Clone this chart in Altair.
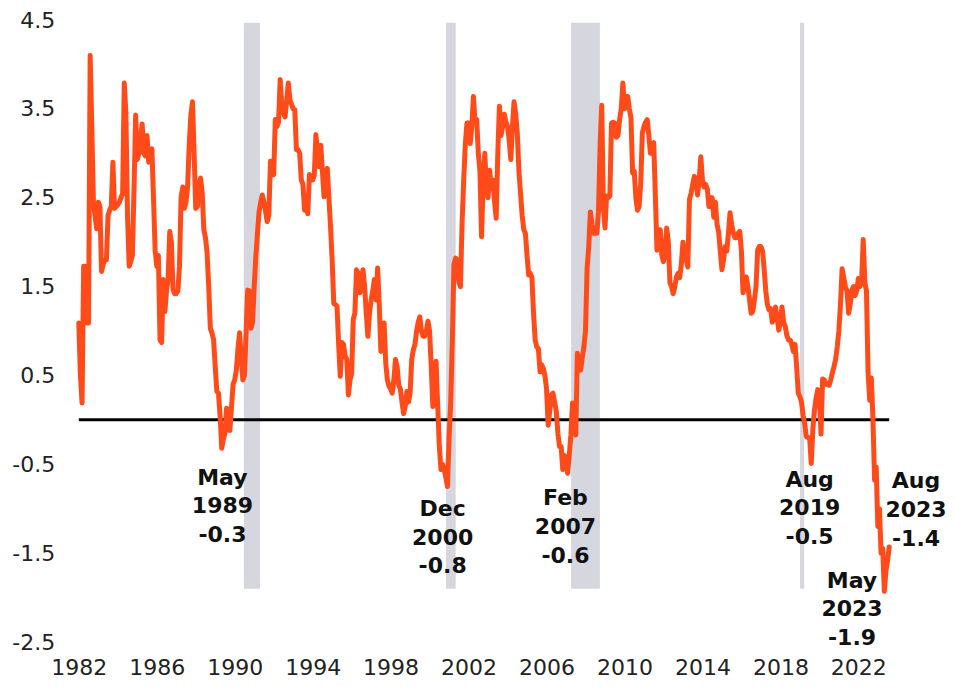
import altair as alt
import pandas as pd

# Monthly spread values (percentage points)
s1982 = [1.09, 0.5, 0.19, 1.73, 1.73, 1.09, 1.09, 4.1, 3.3, 2.45, 2.3, 2.15]
s1983 = [2.45, 2.4, 1.67, 1.75, 1.8, 1.8, 2.3, 2.36, 2.4, 2.9, 2.38, 2.4]
s1984 = [2.42, 2.45, 2.5, 2.55, 3.79, 3.45, 2.3, 1.73, 1.78, 1.85, 2.6, 3.43]
s1985 = [2.93, 3.0, 3.15, 3.33, 3.0, 2.97, 3.2, 2.9, 3.0, 3.05, 2.5, 1.91]
s1986 = [1.73, 1.85, 0.9, 0.87, 1.58, 1.22, 1.45, 1.59, 2.12, 2.0, 1.47, 1.42]
s1987 = [1.42, 1.45, 1.73, 2.51, 2.62, 2.38, 2.45, 2.62, 3.1, 3.43, 3.58, 3.0]
s1988 = [2.38, 2.4, 2.66, 2.72, 2.55, 2.14, 2.05, 1.88, 1.5, 1.03, 0.98, 0.9]
s1989 = [0.6, 0.32, 0.3, 0.05, -0.32, -0.22, -0.15, 0.13, 0.1, -0.12, 0.14, 0.4]
s1990 = [0.45, 0.56, 0.8, 0.98, 0.7, 0.45, 0.5, 0.98, 1.46, 1.45, 1.03, 1.1]
s1991 = [1.5, 1.84, 2.1, 2.34, 2.45, 2.53, 2.45, 2.35, 2.23, 2.3, 2.91, 2.8]
s1992 = [2.76, 3.38, 3.3, 3.35, 3.83, 3.53, 3.45, 3.41, 3.6, 3.79, 3.6, 3.55]
s1993 = [3.5, 3.49, 3.04, 3.04, 3.0, 2.7, 2.65, 2.36, 2.5, 2.32, 2.76, 2.72]
s1994 = [2.7, 2.75, 3.21, 3.0, 2.85, 3.09, 2.8, 2.51, 2.7, 2.83, 2.5, 2.18]
s1995 = [1.8, 1.31, 1.3, 1.28, 0.85, 0.49, 0.87, 0.85, 0.72, 0.68, 0.28, 0.45]
s1996 = [0.52, 1.13, 1.2, 1.69, 1.65, 1.43, 1.55, 1.69, 1.5, 1.2, 0.94, 1.2]
s1997 = [1.35, 1.45, 1.58, 1.35, 1.71, 1.3, 0.77, 0.9, 1.09, 0.64, 0.45, 0.38]
s1998 = [0.35, 0.3, 0.45, 0.68, 0.6, 0.39, 0.35, 0.2, 0.07, 0.15, 0.32, 0.2]
s1999 = [0.3, 0.68, 0.79, 0.85, 1.0, 1.1, 1.16, 1.0, 0.94, 0.94, 1.0, 1.11]
s2000 = [1.0, 0.6, 0.15, 0.35, 0.66, 0.15, -0.3, -0.56, -0.5, -0.56, -0.65, -0.75]
s2001 = [-0.2, 0.2, 0.9, 1.75, 1.82, 1.8, 1.55, 1.5, 2.21, 2.7, 3.1, 3.34]
s2002 = [3.34, 3.11, 3.3, 3.64, 3.34, 3.38, 3.0, 2.8, 2.06, 2.7, 3.0, 2.6]
s2003 = [2.5, 2.81, 2.6, 2.7, 2.45, 2.27, 3.0, 3.53, 3.2, 3.3, 3.44, 3.35]
s2004 = [3.3, 3.15, 2.93, 3.3, 3.58, 3.45, 3.23, 2.8, 2.55, 2.3, 2.14, 2.1]
s2005 = [1.85, 1.63, 1.65, 1.6, 1.2, 0.9, 0.82, 0.8, 0.54, 0.62, 0.58, 0.5]
s2006 = [0.35, -0.06, 0.1, 0.28, 0.3, 0.2, 0.1, -0.15, -0.3, -0.3, -0.56, -0.4]
s2007 = [-0.45, -0.6, -0.4, -0.17, 0.19, 0.0, -0.17, 0.75, 0.6, 0.56, 0.7, 0.82]
s2008 = [1.0, 1.71, 1.95, 2.34, 2.2, 2.1, 2.1, 2.1, 2.34, 3.1, 3.54, 2.4]
s2009 = [2.16, 2.52, 2.5, 2.52, 3.34, 3.35, 3.34, 3.18, 3.2, 3.38, 3.5, 3.79]
s2010 = [3.5, 3.6, 3.64, 3.5, 3.4, 2.78, 2.8, 2.5, 2.36, 2.4, 2.66, 3.23]
s2011 = [3.3, 3.35, 3.38, 3.2, 3.0, 3.1, 3.12, 2.53, 1.91, 2.14, 2.14, 1.85]
s2012 = [1.78, 1.9, 2.16, 2.0, 1.54, 1.5, 1.42, 1.5, 1.61, 1.65, 1.6, 1.75]
s2013 = [2.0, 1.85, 1.8, 1.72, 2.48, 2.55, 2.65, 2.74, 2.7, 2.53, 2.7, 2.96]
s2014 = [2.7, 2.62, 2.65, 2.6, 2.4, 2.5, 2.5, 2.28, 2.45, 2.2, 2.11, 1.9]
s2015 = [1.69, 1.8, 1.95, 1.9, 2.1, 2.33, 2.2, 2.1, 2.05, 2.05, 2.1, 2.12]
s2016 = [1.9, 1.43, 1.55, 1.61, 1.5, 1.35, 1.2, 1.22, 1.35, 1.5, 1.91, 1.95]
s2017 = [1.95, 1.9, 1.7, 1.45, 1.3, 1.24, 1.25, 1.1, 1.15, 1.27, 1.15, 1.01]
s2018 = [1.1, 1.27, 1.1, 1.05, 0.95, 0.9, 0.9, 0.85, 0.77, 0.85, 0.6, 0.3]
s2019 = [0.26, 0.2, 0.05, -0.05, -0.19, -0.2, -0.2, -0.49, -0.1, 0.11, 0.25, 0.34]
s2020 = [0.3, -0.16, 0.46, 0.45, 0.4, 0.4, 0.39, 0.45, 0.53, 0.6, 0.68, 0.82]
s2021 = [1.0, 1.3, 1.7, 1.6, 1.5, 1.45, 1.2, 1.3, 1.46, 1.5, 1.4, 1.45]
s2022 = [1.59, 1.5, 1.55, 2.03, 1.55, 1.45, 0.53, 0.22, 0.47, 0.0, -0.68, -0.53]
s2023 = [-1.2, -1.0, -1.5, -1.45, -1.93, -1.7, -1.58, -1.43]

series = [s1982, s1983, s1984, s1985, s1986, s1987, s1988, s1989, s1990, s1991,
          s1992, s1993, s1994, s1995, s1996, s1997, s1998, s1999, s2000, s2001,
          s2002, s2003, s2004, s2005, s2006, s2007, s2008, s2009, s2010, s2011,
          s2012, s2013, s2014, s2015, s2016, s2017, s2018, s2019, s2020, s2021,
          s2022, s2023]
first_year = 1982

# Shaded recession bands (decimal years, as drawn in the reference)
rec_start = [1990.47, 2000.84, 2007.26, 2019.01]
rec_end = [1991.30, 2001.34, 2008.74, 2019.22]

# Annotations
ann_text = ["May\n1989\n-0.3", "Dec\n2000\n-0.8", "Feb\n2007\n-0.6",
            "Aug\n2019\n-0.5", "Aug\n2023\n-1.4", "May\n2023\n-1.9"]
ann_t = [1989.37, 2000.67, 2006.97, 2019.50, 2024.96, 2021.675]
ann_v = [-0.73, -1.08, -0.96, -0.75, -0.77, -1.89]

x_ticks = [1982, 1986, 1990, 1994, 1998, 2002, 2006, 2010, 2014, 2018, 2022]
y_ticks = [-2.5, -1.5, -0.5, 0.5, 1.5, 2.5, 3.5, 4.5]

rows = []
for k, vals in enumerate(series):
    for i, v in enumerate(vals):
        rows.append({"t": first_year + k + i / 12.0, "v": v})
df = pd.DataFrame(rows)
t_end = df["t"].max()

bands = pd.DataFrame({"t": rec_start, "e": rec_end, "v": 4.47, "bot": -1.9})
zero = pd.DataFrame({"t": [first_year], "b": [t_end], "v": [0.0]})
ann = pd.DataFrame({"label": ann_text, "t": ann_t, "v": ann_v})

xs = alt.Scale(domain=[first_year, t_end], nice=False, zero=False)
ys = alt.Scale(domain=[-2.5, 4.5], nice=False, zero=False)

FONT = "DejaVu Sans"

x_axis = alt.Axis(values=x_ticks, format="d", title=None, domain=False, ticks=False,
                  tickSize=0, grid=False, labelFontSize=22, labelFont=FONT,
                  labelColor="#222222", labelPadding=15, labelFlush=False,
                  labelOverlap=False)
y_axis = alt.Axis(values=y_ticks, title=None, domain=False, ticks=False, tickSize=0,
                  grid=False, labelFontSize=22, labelFont=FONT, labelColor="#222222",
                  labelPadding=24, labelFlush=False, labelOverlap=False,
                  labelExpr="datum.value < 0 ? '-' + format(abs(datum.value), '.1f') : format(datum.value, '.1f')")

X = alt.X("t:Q", scale=xs, axis=x_axis)
Y = alt.Y("v:Q", scale=ys, axis=y_axis)

band_layer = alt.Chart(bands).mark_rect(color="#D6D6DF").encode(
    x=X, x2="e:Q", y=Y, y2="bot:Q",
)

zero_layer = alt.Chart(zero).mark_rule(color="black", strokeWidth=3).encode(
    x=X, x2="b:Q", y=Y,
)

line_layer = alt.Chart(df).mark_line(
    color="#FF4B19", strokeWidth=5, strokeJoin="round", strokeCap="round"
).encode(x=X, y=Y)

text_layer = alt.Chart(ann).mark_text(
    font=FONT, fontWeight="bold", fontSize=22, lineBreak="\n", lineHeight=28.7,
    align="center", baseline="alphabetic", color="#111111"
).encode(x=X, y=Y, text="label:N")

chart = alt.layer(band_layer, zero_layer, line_layer, text_layer).properties(
    width=810.4,
    height=622,
    padding={"left": 70.8, "top": 12, "right": 57.8, "bottom": 33},
    autosize=alt.AutoSizeParams(type="none"),
    background="white",
).configure_view(stroke=None)

chart.save("out.html", embed_options={"renderer": "svg", "actions": False})
